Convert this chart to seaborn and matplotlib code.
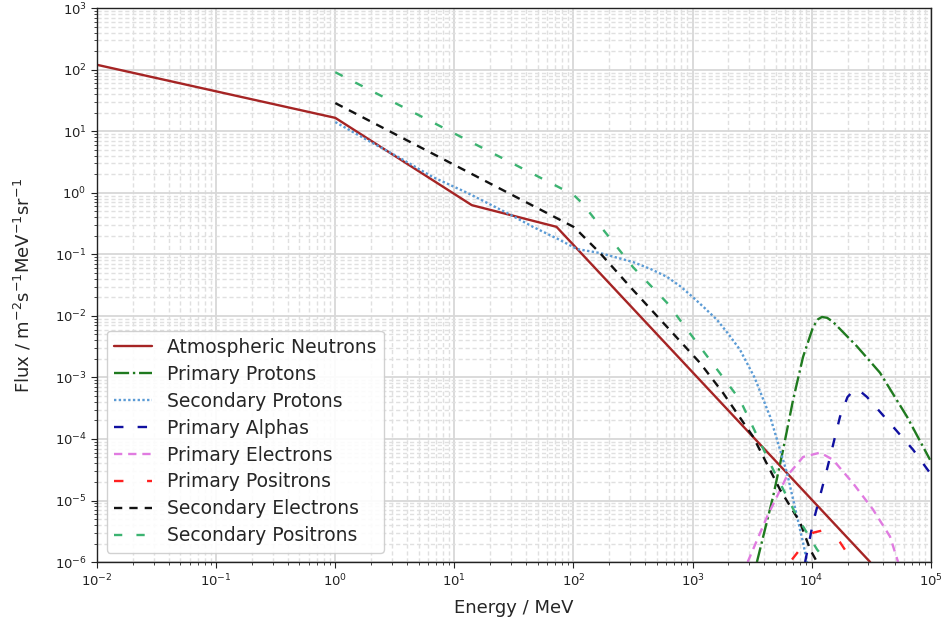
import numpy as np
import pandas as pd
import matplotlib
matplotlib.use("Agg")
import matplotlib.pyplot as plt
import seaborn as sns
from matplotlib.ticker import LogLocator, NullFormatter

# ---- data ----
neutron_E = [0.01, 1.0, 14, 72, 31000]
neutron_F = [120, 16.5, 0.63, 0.28, 1.0e-6]

prim_proton_E = [3470, 4740, 5750, 6980, 8470, 10280, 11300, 12200, 13500, 15100, 24000, 37500, 63200, 98600]
prim_proton_F = [1.0e-6, 1.15e-5, 6.6e-5, 4.3e-4, 2.16e-3, 6.6e-3, 8.8e-3, 9.6e-3, 9.3e-3, 8.0e-3, 3.2e-3, 1.19e-3, 2.3e-4, 4.6e-5]

sec_proton_E = [1.0, 1.85, 3.5, 6.6, 12.8, 27.7, 45.8, 77, 107, 167, 316, 447, 611, 794, 1010, 1259, 1606, 1995, 2506, 3311, 4480, 6210, 8470, 9150]
sec_proton_F = [14.1, 7.2, 3.67, 1.80, 1.0, 0.47, 0.279, 0.171, 0.122, 0.105, 0.075, 0.0575, 0.043, 0.030, 0.020, 0.0135, 0.0086, 0.0051, 0.0028, 0.001, 2.3e-4, 2.8e-5, 2.07e-6, 1.0e-6]

alpha_E = [8810, 10280, 13450, 17300, 20000, 23000, 26000, 29200, 45500, 71000, 98600]
alpha_F = [1.0e-6, 4.4e-6, 3.2e-5, 2.3e-4, 4.8e-4, 6.4e-4, 5.8e-4, 4.8e-4, 1.8e-4, 6.7e-5, 2.8e-5]

prim_electron_E = [2900, 4230, 6210, 8470, 11800, 15100, 22300, 32800, 45500, 53200]
prim_electron_F = [1.0e-6, 5.5e-6, 2.5e-5, 5.1e-5, 6.0e-5, 4.6e-5, 1.9e-5, 7.1e-6, 2.6e-6, 1.0e-6]

prim_positron_E = [6840, 10280, 13450, 17300, 22300]
prim_positron_F = [1.1e-6, 3.0e-6, 3.4e-6, 2.1e-6, 1.0e-6]

sec_electron_E = [1.0, 100, 107, 167, 316, 611, 1156, 1803, 3221, 5430, 8000, 9710, 11100]
sec_electron_F = [28.7, 0.28, 0.249, 0.105, 0.0264, 0.0066, 0.00172, 5.6e-4, 1.09e-4, 1.5e-5, 4.4e-6, 1.6e-6, 1.0e-6]

sec_positron_E = [1.0, 100, 118, 316, 611, 1156, 2506, 4740, 7540, 11100, 13500]
sec_positron_F = [91, 0.93, 0.68, 0.062, 0.0163, 0.00314, 4.3e-4, 3.2e-5, 5.5e-6, 1.6e-6, 1.0e-6]

names = ["Atmospheric Neutrons", "Primary Protons", "Secondary Protons", "Primary Alphas",
         "Primary Electrons", "Primary Positrons", "Secondary Electrons", "Secondary Positrons"]
series = [(neutron_E, neutron_F), (prim_proton_E, prim_proton_F), (sec_proton_E, sec_proton_F),
          (alpha_E, alpha_F), (prim_electron_E, prim_electron_F), (prim_positron_E, prim_positron_F),
          (sec_electron_E, sec_electron_F), (sec_positron_E, sec_positron_F)]

rows = []
for n, (E, F) in zip(names, series):
    for i, (e, f) in enumerate(zip(E, F)):
        rows.append({"Energy": e, "Flux": f, "Particle": n, "order": i})
df = pd.DataFrame(rows)

palette = {
    "Atmospheric Neutrons": "#a52424",
    "Primary Protons": "#1f7a1f",
    "Secondary Protons": "#5b9bd5",
    "Primary Alphas": "#1010a0",
    "Primary Electrons": "#e07be0",
    "Primary Positrons": "#ff2020",
    "Secondary Electrons": "#111111",
    "Secondary Positrons": "#3cb371",
}
dashes = {
    "Atmospheric Neutrons": "",
    "Primary Protons": (6.4, 1.6, 1.0, 1.6),
    "Secondary Protons": (1.0, 1.0),
    "Primary Alphas": (4.0, 6.0),
    "Primary Electrons": (3.5, 2.5),
    "Primary Positrons": (4.0, 10.0),
    "Secondary Electrons": (3.5, 3.0),
    "Secondary Positrons": (3.5, 6.0),
}

sns.set_style("white")
plt.rcParams["font.family"] = ["DejaVu Sans"]

fig = plt.figure(figsize=(9.43, 6.28), dpi=100)
ax = fig.add_axes([0.103, 0.105, 0.884, 0.882])

sns.lineplot(data=df, x="Energy", y="Flux", hue="Particle", style="Particle",
             hue_order=names, style_order=names, palette=palette, dashes=dashes,
             sort=False, estimator=None, units="Particle", linewidth=1.7, ax=ax)
for line in ax.lines:
    line.set_linewidth(1.7)

ax.set_xscale("log")
ax.set_yscale("log")
ax.set_xlim(1e-2, 1e5)
ax.set_ylim(1e-6, 1e3)

ax.xaxis.set_major_locator(LogLocator(base=10, numticks=20))
ax.yaxis.set_major_locator(LogLocator(base=10, numticks=20))
ax.xaxis.set_minor_locator(LogLocator(base=10, subs=np.arange(2, 10), numticks=100))
ax.yaxis.set_minor_locator(LogLocator(base=10, subs=np.arange(2, 10), numticks=100))
ax.xaxis.set_minor_formatter(NullFormatter())
ax.yaxis.set_minor_formatter(NullFormatter())

ax.grid(True, which="major", color="#d8d8d8", linestyle="-", linewidth=1.3)
ax.grid(True, which="minor", color="#e0e0e0", linestyle=(0, (3, 2)), linewidth=1.0)
ax.set_axisbelow(True)

for s in ax.spines.values():
    s.set_color("#222222")
    s.set_linewidth(1.0)
ax.tick_params(which="major", direction="out", length=4, width=0.8, labelsize=9.5, colors="#222222", bottom=True, left=True)
ax.tick_params(which="minor", direction="out", length=2, width=0.6, bottom=True, left=True)

ax.set_xlabel("Energy / MeV", fontsize=13, labelpad=7)
ax.set_ylabel(r"Flux / m$^{-2}$s$^{-1}$MeV$^{-1}$sr$^{-1}$", fontsize=13, labelpad=15)

leg = ax.legend(loc="lower left", fontsize=13.5, frameon=True, handlelength=2.0,
                borderaxespad=0.5, labelspacing=0.42, fancybox=True, borderpad=0.4)
leg.get_frame().set_edgecolor("#cccccc")
leg.get_frame().set_alpha(0.9)

fig.savefig("out.png", dpi=100)
